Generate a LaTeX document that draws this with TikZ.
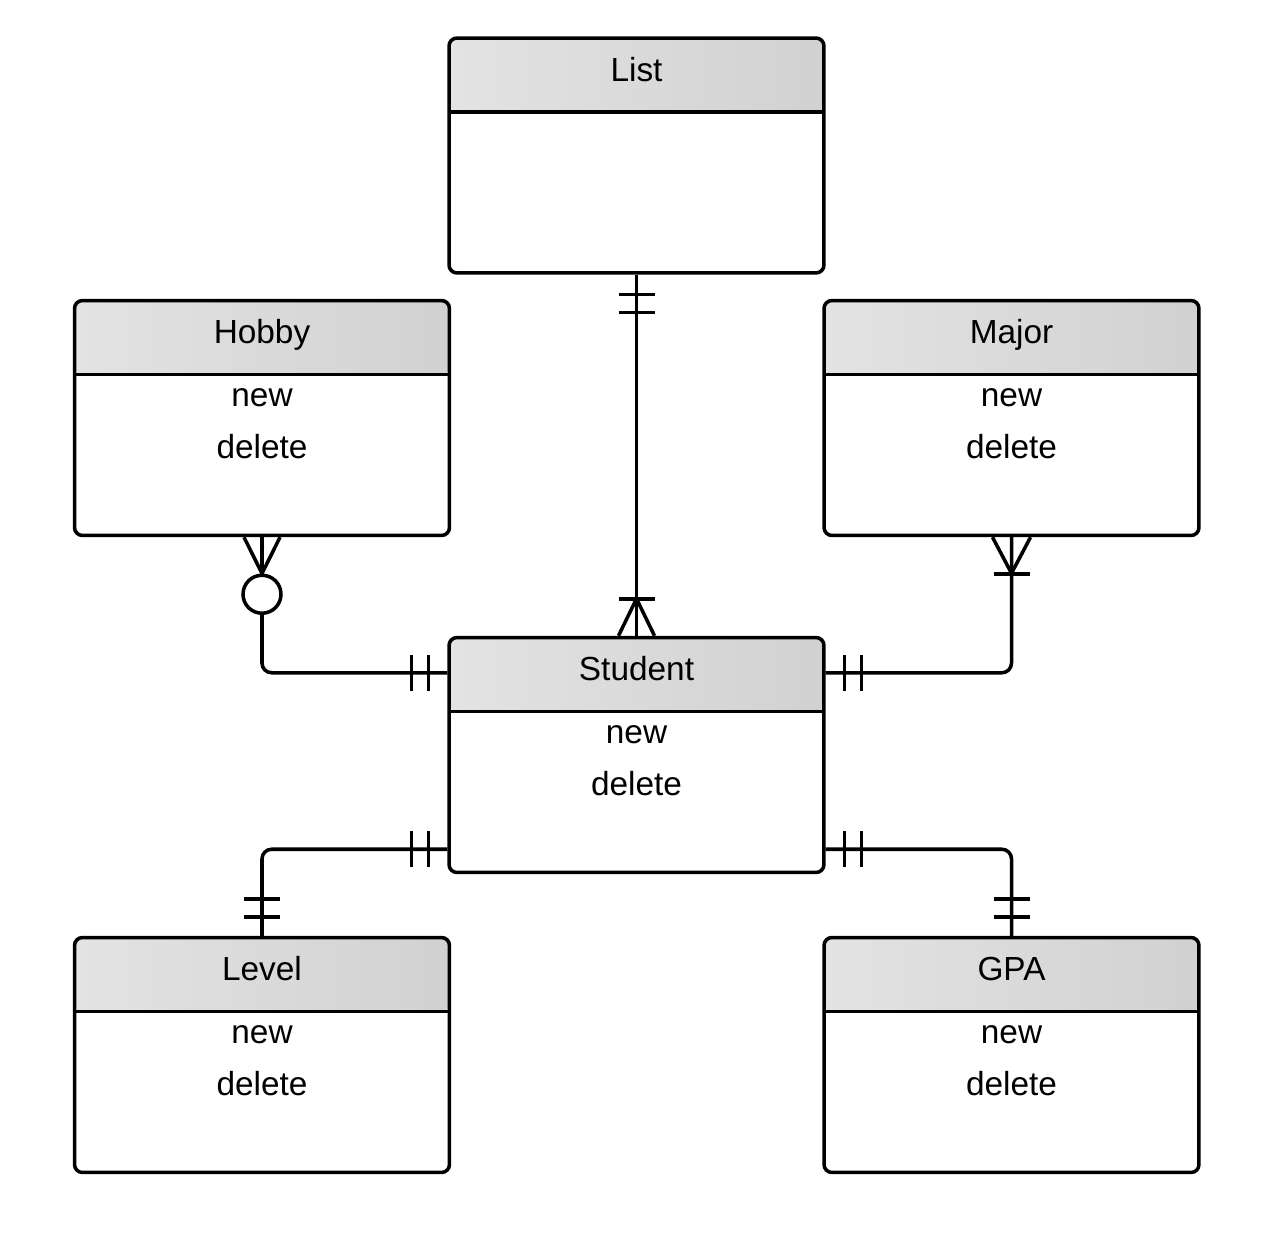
\documentclass[tikz,border=0pt]{standalone}
\usepackage{fontspec}
\setmainfont{Liberation Sans}
\usetikzlibrary{calc}

\tikzset{
  entity/.style={draw, line width=2pt, rounded corners=4.5pt, fill=white,
    minimum width=7.5cm, minimum height=4.7cm, inner sep=0pt,
    path picture={
      \shade[left color=gray!22, right color=gray!36]
        (path picture bounding box.north west) rectangle ([yshift=-1.48cm]path picture bounding box.north east);
      \draw[line width=2pt]
        ([yshift=-1.48cm]path picture bounding box.north west) -- ([yshift=-1.48cm]path picture bounding box.north east);
    }},
  txt/.style={anchor=base, inner sep=0pt, font=\fontsize{19}{23}\selectfont},
  conn/.style={line width=2pt},
  zero/.style={draw, circle, line width=2pt, fill=white, minimum size=0.76cm, inner sep=0pt}
}

\begin{document}
\begin{tikzpicture}[x=0.02cm, y=-0.02cm]
    \useasboundingbox (0,0) rectangle (1275,1251);

    % Tabellen
    \node[entity] (list) at (636.5,155.5) {};
    \node[entity] (hobby) at (262,418) {};
    \node[entity] (major) at (1011.5,418) {};
    \node[entity] (student) at (636.5,755) {};
    \node[entity] (level) at (262,1055) {};
    \node[entity] (gpa) at (1011.5,1055) {};

    % Titel
    \node[txt] (list-t) at ($(list.north)+(0,45)$) {List};
    \node[txt] (hobby-t) at ($(hobby.north)+(0,45)$) {Hobby};
    \node[txt] (major-t) at ($(major.north)+(0,45)$) {Major};
    \node[txt] (student-t) at ($(student.north)+(0,45)$) {Student};
    \node[txt] (level-t) at ($(level.north)+(0,45)$) {Level};
    \node[txt] (gpa-t) at ($(gpa.north)+(0,45)$) {GPA};

    % Methoden
    \foreach \e in {hobby,major,student,level,gpa} {
        \node[txt] (\e-new) at ($(\e.north)+(0,108)$) {new};
        \node[txt] (\e-del) at ($(\e.north)+(0,160)$) {delete};
    }

    % List -- Student (genau eins / eins oder mehr)
    \draw[conn] (list.south) -- (student.north);
    \draw[conn] ($(list.south)+(-18,20)$) -- ++(36,0);
    \draw[conn] ($(list.south)+(-18,38)$) -- ++(36,0);
    \draw[conn] ($(student.north)+(-18,-37)$) -- ++(36,0);
    \draw[conn] ($(student.north)+(-18,0)$) -- ($(student.north)+(0,-37)$) -- ($(student.north)+(18,0)$);

    % Hobby -- Student (null oder mehr / genau eins)
    \node[zero] (hob-o) at ($(hobby.south)+(0,57)$) {};
    \coordinate (stu-hob) at ($(student.north west)+(0,37)$);
    \draw[conn] (hobby.south) -- (hob-o.north);
    \draw[conn] ($(hobby.south)+(-18,0)$) -- (hob-o.north) -- ($(hobby.south)+(18,0)$);
    \draw[conn, rounded corners=5.5pt] (hob-o.south) |- (stu-hob);
    \draw[conn] ($(stu-hob)+(-36,-18)$) -- ++(0,36);
    \draw[conn] ($(stu-hob)+(-19,-18)$) -- ++(0,36);

    % Major -- Student (eins oder mehr / genau eins)
    \coordinate (stu-maj) at ($(student.north east)+(0,37)$);
    \draw[conn, rounded corners=5.5pt] (stu-maj) -| (major.south);
    \draw[conn] ($(stu-maj)+(19,-18)$) -- ++(0,36);
    \draw[conn] ($(stu-maj)+(36,-18)$) -- ++(0,36);
    \draw[conn] ($(major.south)+(-18,37)$) -- ++(36,0);
    \draw[conn] ($(major.south)+(-19,0)$) -- ($(major.south)+(0,36)$) -- ($(major.south)+(19,0)$);

    % Level -- Student (genau eins / genau eins)
    \coordinate (stu-lev) at ($(student.south west)+(0,-25)$);
    \draw[conn, rounded corners=5.5pt] (stu-lev) -| (level.north);
    \draw[conn] ($(stu-lev)+(-36,-18)$) -- ++(0,36);
    \draw[conn] ($(stu-lev)+(-19,-18)$) -- ++(0,36);
    \draw[conn] ($(level.north)+(-18,-37)$) -- ++(36,0);
    \draw[conn] ($(level.north)+(-18,-19)$) -- ++(36,0);

    % GPA -- Student (genau eins / genau eins)
    \coordinate (stu-gpa) at ($(student.south east)+(0,-25)$);
    \draw[conn, rounded corners=5.5pt] (stu-gpa) -| (gpa.north);
    \draw[conn] ($(stu-gpa)+(19,-18)$) -- ++(0,36);
    \draw[conn] ($(stu-gpa)+(36,-18)$) -- ++(0,36);
    \draw[conn] ($(gpa.north)+(-18,-37)$) -- ++(36,0);
    \draw[conn] ($(gpa.north)+(-18,-19)$) -- ++(36,0);

\end{tikzpicture}
\end{document}
